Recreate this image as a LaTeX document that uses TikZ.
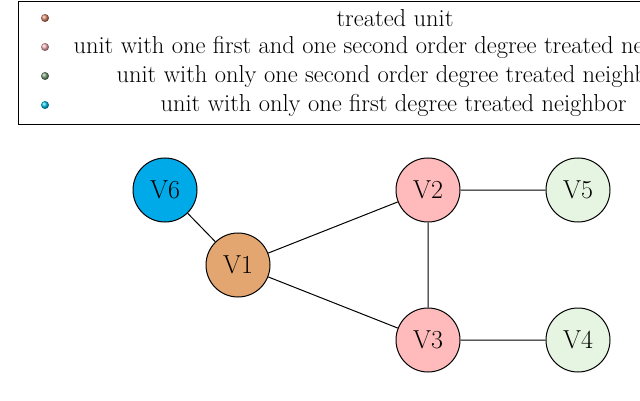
\documentclass[tikz,border=0pt]{standalone}
\begin{document}
\begin{tikzpicture}[x=1pt,y=-1pt,
  vert/.style={circle,draw,line width=1pt,minimum size=64pt,inner sep=0pt,font=\fontsize{26}{30}\selectfont},
  leg/.style={font=\fontsize{24.5}{28}\selectfont,anchor=center}]
\useasboundingbox (0,0) rectangle (640,401);
\begin{scope}
\clip (0,0) rectangle (640,401);
\draw[line width=1pt] (18,2) rectangle (700,125);
\node[leg] (l1) at (395,18) {treated unit};
\node[leg,anchor=west] (l2) at (70,47) {unit with one first and one second order degree treated neighbor};
\node[leg,anchor=west] (l3) at (113,76) {unit with only one second order degree treated neighbor};
\node[leg,anchor=west] (l4) at (157,105) {unit with only one first degree treated neighbor};
\end{scope}
\shade[ball color={rgb,255:red,215;green,130;blue,100}] (45,18) circle (4);
\shade[ball color={rgb,255:red,240;green,170;blue,175}] (45,47) circle (4);
\shade[ball color={rgb,255:red,110;green,150;blue,110}] (45,76) circle (4);
\shade[ball color={rgb,255:red,0;green,190;blue,230}] (45,105) circle (4);
\definecolor{cv6}{RGB}{0,170,232}
\definecolor{cv1}{RGB}{228,166,112}
\definecolor{cv2}{RGB}{255,187,187}
\definecolor{cv5}{RGB}{230,245,225}
\node[vert,fill=cv6] (V6) at (165,190) {V6};
\node[vert,fill=cv1] (V1) at (238,265) {V1};
\node[vert,fill=cv2] (V2) at (428,190) {V2};
\node[vert,fill=cv2] (V3) at (428,340) {V3};
\node[vert,fill=cv5] (V5) at (578,190) {V5};
\node[vert,fill=cv5] (V4) at (578,340) {V4};
\draw[line width=1pt] (V6)--(V1) (V1)--(V2) (V1)--(V3) (V2)--(V3) (V2)--(V5) (V3)--(V4);
\end{tikzpicture}
\end{document}
